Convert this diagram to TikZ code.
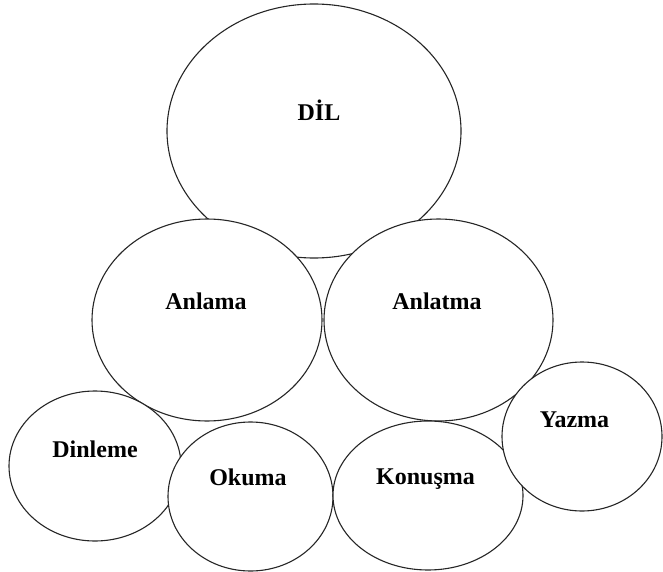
\documentclass[tikz,border=0pt]{standalone}
\usepackage{fontspec}
\setmainfont{Liberation Serif}
\usetikzlibrary{shapes.geometric}
\begin{document}
\begin{tikzpicture}[x=1pt,y=-1pt,
  oval/.style={ellipse,draw=black!85,line width=1.1pt,fill=white,inner sep=0pt},
  lbl/.style={font=\fontsize{24}{28}\selectfont\bfseries,text=black,inner sep=0pt,anchor=base}]
\useasboundingbox (0,0) rectangle (663,572);
\node[oval,minimum width=294pt,minimum height=254pt] (dil) at (314,131) {};
\node[oval,minimum width=230pt,minimum height=202pt] (anlama) at (207,320) {};
\node[oval,minimum width=229pt,minimum height=202pt] (anlatma) at (438.5,320) {};
\node[oval,minimum width=172pt,minimum height=150pt] (dinleme) at (95,466) {};
\node[oval,minimum width=165pt,minimum height=149pt] (okuma) at (250.5,496.5) {};
\node[oval,minimum width=190pt,minimum height=149pt] (konusma) at (428,495.5) {};
\node[oval,minimum width=160pt,minimum height=149pt] (yazma) at (582,436.5) {};
\node[lbl] (tdil) at (319,121) {DİL};
\node[lbl] (tanlama) at (206,309) {Anlama};
\node[lbl] (tanlatma) at (437,309) {Anlatma};
\node[lbl] (tdinleme) at (95,457) {Dinleme};
\node[lbl] (tokuma) at (248,485) {Okuma};
\node[lbl] (tkonusma) at (425.5,484) {Konuşma};
\node[lbl] (tyazma) at (574.5,427) {Yazma};
\end{tikzpicture}
\end{document}
